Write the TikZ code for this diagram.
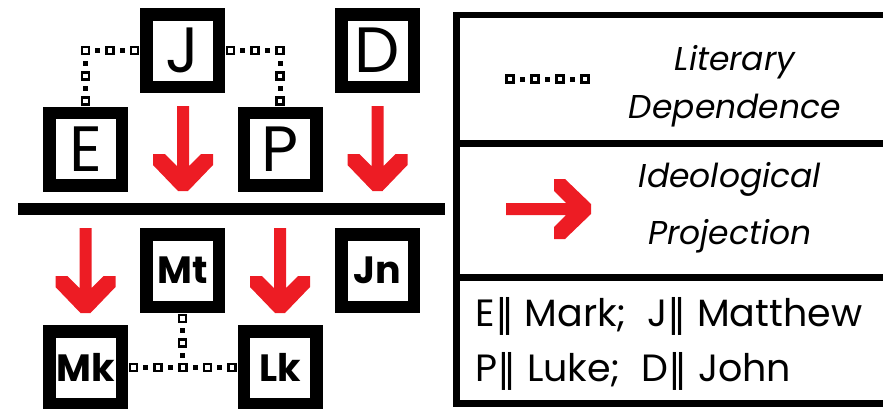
\documentclass[tikz,border=0pt]{standalone}
\usepackage{fontspec}
\setmainfont{Poppins}
\newfontfamily\barfont{DejaVu Sans}
\usetikzlibrary{positioning}
\definecolor{projred}{HTML}{ED1C24}
\def\SrcFont{\fontsize{64}{64}\selectfont}
\def\GosFont{\bfseries\fontsize{38}{38}\selectfont}
\def\bars{{\barfont\kern0.02em‖}}
% positions of the marks along a literary dependence link
\def\LDsq{0.05,0.275,0.5,0.725,0.95}
\def\LDdot{0.1625,0.3875,0.6125,0.8375}

\tikzset{
    pics/projarrow/.style={code={
        \fill[projred] (0,-6) -- (60,-6) -- (48,-18) -- (48,-30) -- (59,-30) -- (85,-5)
            -- (85,5) -- (59,30) -- (48,30) -- (48,18) -- (60,6) -- (0,6) -- cycle;
    }}
}

\begin{document}
\begin{tikzpicture}[
    x=1pt, y=1pt,
    gbox/.style={draw, line width=12.5pt, minimum size=72.5pt, inner sep=0pt, fill=white},
    src/.style={gbox, font=\SrcFont},
    gos/.style={gbox, font=\GosFont},
    sqmark/.style={draw, fill=white, line width=2.6pt, minimum size=7pt, inner sep=0pt},
    dotmark/.style={fill, minimum size=5pt, inner sep=0pt},
    legtext/.style={inner sep=0pt, align=center, font=\itshape\fontsize{33}{#1}\selectfont}
]
\useasboundingbox (0,0) rectangle (883,-408);

% Sources (above the line)
\node[src] (J) at (182.5,-50.5) {J};
\node[src] (D) at (377.5,-50.5) {D};
\node[src] (E) at (85.5,-149) {E};
\node[src] (P) at (280,-149) {P};

% Gospels (below the line)
\node[gos] (Mt) at (182.5,-270.5) {Mt};
\node[gos] (Jn) at (377.5,-270.5) {Jn};
\node[gos] (Mk) at (85.5,-367.5) {Mk};
\node[gos] (Lk) at (280,-367.5) {Lk};

% Literary dependence
\path (J.west) -| (E.north)
    \foreach \p in \LDsq {node[sqmark, pos=\p] {}}
    \foreach \p in \LDdot {node[dotmark, pos=\p] {}};
\path (J.east) -| (P.north)
    \foreach \p in \LDsq {node[sqmark, pos=\p] {}}
    \foreach \p in \LDdot {node[dotmark, pos=\p] {}};
\path (Mk.east) -- (Lk.west)
    \foreach \p in \LDsq {node[sqmark, pos=\p] {}}
    \foreach \p in \LDdot {node[dotmark, pos=\p] {}};
\path (Mt.south) -- (Mt.south |- Mk.east)
    \foreach \p in {0.1,0.555} {node[sqmark, pos=\p] {}}
    \foreach \p in {0.328,0.78} {node[dotmark, pos=\p] {}};

% Ideological projection
\pic[rotate=-90] at (183,-106) {projarrow};
\pic[rotate=-90] at (377.5,-106) {projarrow};
\pic[rotate=-90] at (85.5,-228) {projarrow};
\pic[rotate=-90] at (280,-228) {projarrow};

% Dividing line
\draw[line width=12pt] (18,-209) -- (445,-209);

% Legend
\draw[line width=6.5pt] (456.5,-15) rectangle (900,-403.5);
\draw[line width=6.5pt] (456.5,-143.5) -- (900,-143.5);
\draw[line width=6.5pt] (456.5,-277.5) -- (900,-277.5);

\coordinate (ldA) at (505,-79);
\coordinate (ldB) at (590,-79);
\path (ldA) -- (ldB)
    \foreach \p in {0.0588,0.353,0.647,0.941} {node[sqmark, pos=\p] {}}
    \foreach \p in {0.206,0.5,0.794} {node[dotmark, pos=\p] {}};
\node[legtext=48] (litLabel) at (735,-86) {Literary\\Dependence};

\pic at (506,-209) {projarrow};
\node[legtext=57] (projLabel) at (730,-208) {Ideological\\Projection};

\node[inner sep=0pt, align=left, anchor=west, font=\fontsize{38}{55}\selectfont] (keyLabel) at (475,-344)
    {E\bars\ Mark;\ \ J\bars\ Matthew\\P\bars\ Luke;\ \ D\bars\ John};
\end{tikzpicture}
\end{document}
